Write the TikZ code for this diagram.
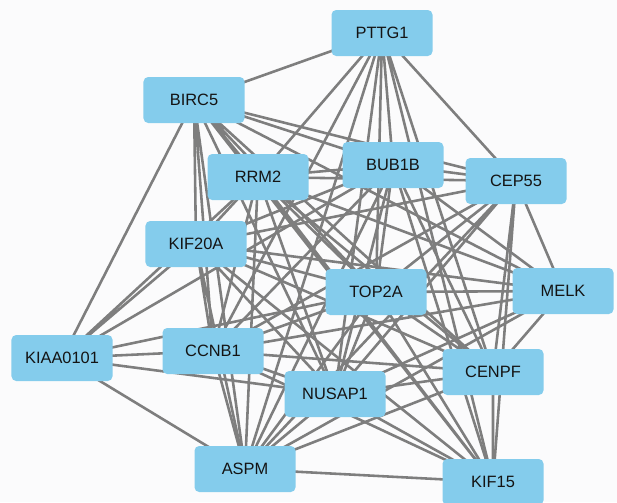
\documentclass[tikz,border=0pt]{standalone}
\usepackage{fontspec}
\setmainfont{Liberation Sans}
\usetikzlibrary{backgrounds}
\definecolor{genefill}{RGB}{132,204,236}
\definecolor{linkgray}{RGB}{126,126,126}
\definecolor{pagebg}{RGB}{251,251,252}

\begin{document}
\begin{tikzpicture}[
  x=0.03cm, y=-0.03cm,
  gene/.style={fill=genefill,rounded corners=4pt,minimum width=3.03cm,minimum height=1.38cm,
    inner sep=0pt,text=black!92,font=\fontsize{14}{16}\selectfont},
  link/.style={linkgray,line width=2.2pt}
]
\useasboundingbox (0,0) rectangle (617,502);

% genes
\node[gene] (pttg)  at (382,33)  {PTTG1};
\node[gene] (birc)  at (194,100) {BIRC5};
\node[gene] (rrm)   at (258,177) {RRM2};
\node[gene] (bub)   at (393,165) {BUB1B};
\node[gene] (cep)   at (516,181) {CEP55};
\node[gene] (kif20) at (196,244) {KIF20A};
\node[gene] (top)   at (376,292) {TOP2A};
\node[gene] (melk)  at (563,291) {MELK};
\node[gene] (kiaa)  at (62,358)  {KIAA0101};
\node[gene] (ccnb)  at (213,351) {CCNB1};
\node[gene] (nusap) at (335,394) {NUSAP1};
\node[gene] (cenpf) at (493,372) {CENPF};
\node[gene] (aspm)  at (245,469) {ASPM};
\node[gene] (kif15) at (493,482) {KIF15};

% interactions
\begin{scope}[on background layer]
\fill[pagebg] (0,0) rectangle (617,502);
\draw[link] (pttg.center) -- (birc.center) (pttg.center) -- (rrm.center) (pttg.center) -- (ccnb.center)
  (pttg.center) -- (aspm.center) (pttg.center) -- (nusap.center) (pttg.center) -- (top.center)
  (pttg.center) -- (bub.center) (pttg.center) -- (cenpf.center) (pttg.center) -- (kif15.center)
  (pttg.center) -- (cep.center);
\draw[link] (kiaa.center) -- (birc.center) (kiaa.center) -- (kif20.center) (kiaa.center) -- (rrm.center)
  (kiaa.center) -- (bub.center) (kiaa.center) -- (top.center) (kiaa.center) -- (ccnb.center)
  (kiaa.center) -- (nusap.center) (kiaa.center) -- (aspm.center);
\draw[link] (birc.center) -- (rrm.center) (birc.center) -- (bub.center) (birc.center) -- (kif20.center)
  (birc.center) -- (top.center) (birc.center) -- (ccnb.center) (birc.center) -- (nusap.center)
  (birc.center) -- (cenpf.center) (birc.center) -- (aspm.center);
\draw[link] (rrm.center) -- (bub.center) (rrm.center) -- (kif20.center) (rrm.center) -- (top.center)
  (rrm.center) -- (ccnb.center) (rrm.center) -- (nusap.center) (rrm.center) -- (cenpf.center)
  (rrm.center) -- (aspm.center);
\draw[link] (bub.center) -- (kif20.center) (bub.center) -- (top.center) (bub.center) -- (ccnb.center)
  (bub.center) -- (nusap.center) (bub.center) -- (cenpf.center) (bub.center) -- (aspm.center);
\draw[link] (kif20.center) -- (top.center) (kif20.center) -- (ccnb.center) (kif20.center) -- (nusap.center)
  (kif20.center) -- (cenpf.center) (kif20.center) -- (aspm.center);
\draw[link] (top.center) -- (ccnb.center) (top.center) -- (nusap.center) (top.center) -- (cenpf.center)
  (top.center) -- (aspm.center);
\draw[link] (ccnb.center) -- (nusap.center) (ccnb.center) -- (cenpf.center) (ccnb.center) -- (aspm.center);
\draw[link] (nusap.center) -- (cenpf.center) (nusap.center) -- (aspm.center) (cenpf.center) -- (aspm.center);
\draw[link] (cep.center) -- (birc.center) (cep.center) -- (rrm.center) (cep.center) -- (bub.center)
  (cep.center) -- (kif20.center) (cep.center) -- (top.center) (cep.center) -- (ccnb.center)
  (cep.center) -- (nusap.center) (cep.center) -- (cenpf.center) (cep.center) -- (aspm.center)
  (cep.center) -- (melk.center) (cep.center) -- (kif15.center);
\draw[link] (melk.center) -- (top.center) (melk.center) -- (birc.center) (melk.center) -- (rrm.center)
  (melk.center) -- (kif20.center) (melk.center) -- (ccnb.center) (melk.center) -- (nusap.center)
  (melk.center) -- (bub.center) (melk.center) -- (aspm.center) (melk.center) -- (cenpf.center);
\draw[link] (kif15.center) -- (aspm.center) (kif15.center) -- (cenpf.center) (kif15.center) -- (bub.center)
  (kif15.center) -- (nusap.center) (kif15.center) -- (ccnb.center) (kif15.center) -- (kif20.center)
  (kif15.center) -- (top.center) (kif15.center) -- (rrm.center) (kif15.center) -- (birc.center);
\end{scope}
\end{tikzpicture}
\end{document}
